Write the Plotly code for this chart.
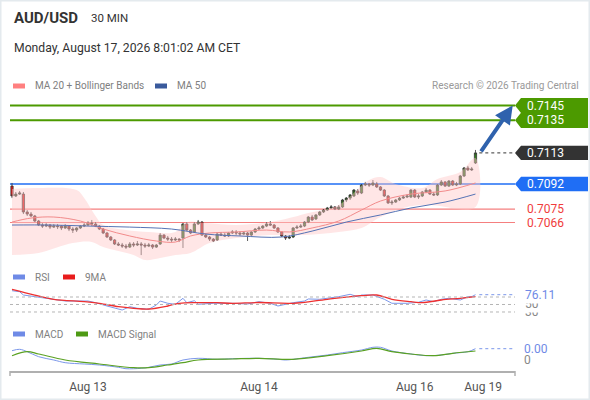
import plotly.graph_objects as go

W, H = 590, 400

# ---------------- data ----------------
open_ = [0.70906,0.70839,0.70852,0.70852,0.70731,0.70717,0.70704,0.70670,0.70643,0.70636,
         0.70643,0.70629,0.70636,0.70636,0.70623,0.70636,0.70616,0.70609,0.70623,0.70636,
         0.70643,0.70656,0.70650,0.70636,0.70616,0.70589,0.70562,0.70542,0.70515,0.70508,
         0.70501,0.70494,0.70515,0.70508,0.70515,0.70508,0.70501,0.70508,0.70494,0.70515,
         0.70575,0.70555,0.70548,0.70542,0.70548,0.70555,0.70650,0.70609,0.70596,0.70650,
         0.70663,0.70575,0.70562,0.70548,0.70542,0.70582,0.70575,0.70569,0.70589,0.70596,
         0.70589,0.70582,0.70589,0.70575,0.70596,0.70616,0.70623,0.70636,0.70650,0.70643,
         0.70623,0.70596,0.70569,0.70555,0.70562,0.70623,0.70629,0.70636,0.70663,0.70697,
         0.70684,0.70711,0.70731,0.70744,0.70758,0.70765,0.70751,0.70765,0.70812,0.70825,
         0.70839,0.70873,0.70859,0.70913,0.70920,0.70913,0.70920,0.70900,0.70879,0.70839,
         0.70792,0.70798,0.70812,0.70825,0.70832,0.70832,0.70879,0.70832,0.70839,0.70866,
         0.70879,0.70852,0.70846,0.70913,0.70934,0.70906,0.70940,0.70913,0.70920,0.70974,
         0.71028,0.71015,0.71062]
close = [0.70839,0.70852,0.70859,0.70731,0.70717,0.70704,0.70670,0.70643,0.70636,0.70643,
         0.70629,0.70636,0.70632,0.70623,0.70636,0.70616,0.70609,0.70623,0.70636,0.70643,
         0.70656,0.70650,0.70636,0.70616,0.70589,0.70562,0.70542,0.70515,0.70508,0.70501,
         0.70494,0.70515,0.70508,0.70515,0.70508,0.70501,0.70508,0.70494,0.70508,0.70575,
         0.70555,0.70548,0.70542,0.70548,0.70542,0.70650,0.70609,0.70589,0.70650,0.70663,
         0.70575,0.70562,0.70548,0.70535,0.70582,0.70575,0.70569,0.70589,0.70596,0.70589,
         0.70582,0.70589,0.70575,0.70596,0.70616,0.70623,0.70636,0.70650,0.70643,0.70623,
         0.70596,0.70569,0.70555,0.70562,0.70623,0.70629,0.70636,0.70663,0.70697,0.70677,
         0.70711,0.70731,0.70744,0.70758,0.70765,0.70751,0.70765,0.70812,0.70825,0.70846,
         0.70879,0.70859,0.70913,0.70920,0.70913,0.70927,0.70900,0.70879,0.70839,0.70792,
         0.70798,0.70812,0.70825,0.70832,0.70839,0.70879,0.70832,0.70839,0.70866,0.70879,
         0.70852,0.70846,0.70913,0.70934,0.70906,0.70940,0.70913,0.70920,0.70974,0.71028,
         0.71015,0.71021,0.71130]
high = [0.70927,0.70866,0.70873,0.70866,0.70744,0.70731,0.70711,0.70677,0.70656,0.70656,
        0.70650,0.70650,0.70650,0.70643,0.70650,0.70643,0.70629,0.70629,0.70643,0.70656,
        0.70670,0.70677,0.70663,0.70643,0.70623,0.70596,0.70569,0.70548,0.70528,0.70522,
        0.70515,0.70528,0.70528,0.70535,0.70528,0.70522,0.70522,0.70515,0.70515,0.70589,
        0.70582,0.70569,0.70562,0.70562,0.70555,0.70656,0.70663,0.70616,0.70663,0.70677,
        0.70670,0.70582,0.70569,0.70555,0.70589,0.70596,0.70589,0.70596,0.70609,0.70609,
        0.70602,0.70602,0.70596,0.70602,0.70623,0.70636,0.70643,0.70663,0.70670,0.70650,
        0.70629,0.70602,0.70575,0.70575,0.70629,0.70643,0.70650,0.70670,0.70704,0.70711,
        0.70717,0.70738,0.70751,0.70765,0.70778,0.70771,0.70778,0.70819,0.70832,0.70852,
        0.70886,0.70886,0.70920,0.70934,0.70927,0.70947,0.70934,0.70906,0.70886,0.70846,
        0.70812,0.70819,0.70832,0.70846,0.70852,0.70886,0.70886,0.70852,0.70873,0.70893,
        0.70886,0.70866,0.70920,0.70947,0.70940,0.70947,0.70947,0.70934,0.70981,0.71035,
        0.71042,0.71035,0.71150]
low = [0.70825,0.70832,0.70846,0.70717,0.70704,0.70697,0.70663,0.70636,0.70623,0.70629,
       0.70616,0.70623,0.70616,0.70609,0.70616,0.70602,0.70589,0.70596,0.70616,0.70629,
       0.70636,0.70636,0.70629,0.70609,0.70582,0.70555,0.70535,0.70508,0.70501,0.70488,
       0.70481,0.70488,0.70494,0.70501,0.70440,0.70488,0.70494,0.70481,0.70488,0.70508,
       0.70548,0.70535,0.70528,0.70535,0.70528,0.70488,0.70602,0.70582,0.70589,0.70643,
       0.70569,0.70555,0.70535,0.70528,0.70535,0.70569,0.70562,0.70562,0.70582,0.70575,
       0.70569,0.70575,0.70535,0.70569,0.70589,0.70609,0.70616,0.70629,0.70636,0.70616,
       0.70589,0.70562,0.70542,0.70548,0.70555,0.70616,0.70623,0.70629,0.70656,0.70670,
       0.70677,0.70704,0.70724,0.70738,0.70751,0.70744,0.70744,0.70758,0.70798,0.70812,
       0.70832,0.70846,0.70852,0.70906,0.70900,0.70906,0.70893,0.70873,0.70832,0.70785,
       0.70778,0.70792,0.70805,0.70819,0.70825,0.70825,0.70825,0.70819,0.70832,0.70859,
       0.70846,0.70839,0.70839,0.70906,0.70900,0.70900,0.70906,0.70906,0.70913,0.70967,
       0.71008,0.71008,0.71055]

# indicator samples (candle index, value)
ma20_idx = [0, 5, 11, 18, 24, 31, 38, 43, 47, 52, 59, 67, 73, 79, 86, 92, 97, 105, 114, 122]
ma20_val = [0.70663, 0.70690, 0.70697, 0.70670, 0.70616, 0.70569, 0.70535, 0.70528, 0.70569, 0.70589,
            0.70596, 0.70609, 0.70596, 0.70623, 0.70670, 0.70744, 0.70805, 0.70852, 0.70873, 0.70927]
ma50_idx = [0, 10, 20, 31, 42, 51, 60, 71, 79, 88, 97, 105, 114, 122]
ma50_val = [0.70643, 0.70643, 0.70636, 0.70629, 0.70616, 0.70582, 0.70569, 0.70562, 0.70602, 0.70663,
            0.70711, 0.70758, 0.70798, 0.70852]
bb_up_idx = [0, 7, 17, 19, 22, 24, 30, 36, 43, 46, 51, 59, 66, 72, 78, 86, 94, 97, 101, 108, 112, 118, 122]
bb_up_val = [0.70886, 0.70893, 0.70879, 0.70825, 0.70704, 0.70643, 0.70609, 0.70596, 0.70596, 0.70663,
             0.70656, 0.70643, 0.70656, 0.70684, 0.70724, 0.70778, 0.70947, 0.70967, 0.70920, 0.70893,
             0.70954, 0.71001, 0.71096]
bb_lo_idx = [0, 7, 16, 21, 24, 32, 35, 39, 43, 47, 52, 59, 68, 77, 86, 92, 97, 104, 110, 122]
bb_lo_val = [0.70440, 0.70454, 0.70521, 0.70528, 0.70494, 0.70440, 0.70406, 0.70420, 0.70440, 0.70454,
             0.70521, 0.70555, 0.70575, 0.70575, 0.70596, 0.70623, 0.70697, 0.70765, 0.70778, 0.70765]

rsi_idx = [0, 2, 3, 6, 10, 14, 20, 22, 25, 28, 29, 31, 33, 36, 38, 39, 41, 43, 45, 46, 48, 49, 53, 58,
           62, 65, 68, 70, 71, 74, 77, 78, 81, 84, 86, 89, 91, 92, 95, 98, 100, 104, 107, 109, 111,
           113, 115, 118, 120, 121, 122]
rsi_val = [86.8, 84.1, 75.3, 70.8, 63.9, 59.3, 59.3, 54.8, 46.0, 37.2, 35.3, 44.1, 39.9, 37.2, 48.7,
           59.3, 53.2, 50.5, 66.5, 54.8, 60.1, 50.5, 53.2, 53.2, 51.3, 57.5, 53.2, 46.0, 48.7, 54.8,
           59.3, 64.7, 63.9, 68.1, 70.8, 77.2, 70.8, 75.3, 75.3, 63.9, 53.2, 53.2, 55.9, 62.0, 57.5,
           63.9, 66.5, 62.0, 70.8, 70.8, 76.11]
rsi_ma_idx = [0, 6, 11, 19, 23, 28, 32, 36, 41, 44, 49, 54, 58, 65, 74, 83, 92, 96, 100, 105, 108, 113, 118, 122]
rsi_ma_val = [90.5, 75.3, 63.9, 57.5, 53.2, 44.1, 39.9, 38.0, 46.0, 53.2, 54.8, 54.8, 53.2, 55.3, 53.2,
              63.9, 73.5, 75.3, 63.9, 57.5, 54.8, 62.0, 66.5, 70.8]
rsi_levels = [30, 50, 70]

macd_idx = [0, 2, 4, 7, 11, 14, 19, 23, 28, 30, 34, 36, 39, 42, 45, 49, 54, 58, 65, 70, 72, 74, 78,
            83, 87, 92, 95, 97, 100, 105, 109, 113, 116, 120, 122]
macd_val = [0.000279, 0.000321, 0.000249, 0.000099, 0.0, -0.000081, -0.00012, -0.00015, -0.000219,
            -0.000261, -0.000249, -0.000219, -0.00015, -0.00012, 0.0, 0.000051, 0.000021, 0.000039,
            0.000051, 0.000021, 0.0, 0.000021, 0.000081, 0.00015, 0.000219, 0.0003, 0.000381, 0.000381,
            0.00027, 0.00018, 0.000129, 0.00015, 0.000201, 0.000249, 0.000339]
sig_idx = [0, 4, 7, 14, 23, 32, 36, 41, 45, 49, 58, 65, 74, 83, 92, 96, 100, 105, 111, 116, 122]
sig_val = [0.000129, 0.000249, 0.00018, 0.0, -0.00012, -0.000231, -0.000231, -0.00015, -0.000081, 0.0,
           0.00003, 0.000051, 0.000021, 0.000129, 0.00027, 0.000351, 0.000249, 0.00018, 0.000129,
           0.000201, 0.00027]

tick_idx = [20, 65, 106, 124]
tick_text = ["Aug 13", "Aug 14", "Aug 16", "Aug 19"]

targets = [0.7145, 0.7135]
pivot = 0.7092
supports = [0.7075, 0.7066]

# ---------------- layout geometry ----------------
FONT = "Roboto, Arial, sans-serif"
X_RANGE = [-0.53, 132.4]
Y_RANGE = [0.70373, 0.71521]
MAIN_DOM = [1 - 265 / H, 1 - 95 / H]
RSI_DOM = [1 - 316 / H, 1 - 285 / H]
RSI_RANGE = [19.3, 102]
MACD_DOM = [1 - 371 / H, 1 - 340 / H]
MACD_RANGE = [-0.00033, 0.0006]
XDOM = [10 / W, 515 / W]


def px(x):
    return x / W


def py(y):
    return 1 - y / H


xs = list(range(len(close)))
last = xs[-1]

fig = go.Figure()

# Bollinger band fill
fig.add_trace(go.Scatter(
    x=bb_up_idx + bb_lo_idx[::-1], y=bb_up_val + bb_lo_val[::-1],
    fill="toself", fillcolor="rgba(255,200,200,0.45)", line=dict(width=0, shape="spline"),
    mode="lines", hoverinfo="skip", showlegend=False))
fig.add_trace(go.Scatter(x=ma20_idx, y=ma20_val, mode="lines",
                         line=dict(color="#f28b8b", width=1, shape="spline"), showlegend=False))
fig.add_trace(go.Scatter(x=ma50_idx, y=ma50_val, mode="lines",
                         line=dict(color="#5573b5", width=1, shape="spline"), showlegend=False))

fig.add_trace(go.Candlestick(
    x=xs, open=open_, high=high, low=low, close=close,
    increasing=dict(fillcolor="#2f7d1c", line=dict(color="#333333", width=0.8)),
    decreasing=dict(fillcolor="#e31b1b", line=dict(color="#333333", width=0.8)),
    whiskerwidth=0, showlegend=False))

# RSI
fig.add_trace(go.Scatter(x=rsi_idx, y=rsi_val, yaxis="y2", mode="lines",
                         line=dict(color="#7b97ea", width=1), showlegend=False))
fig.add_trace(go.Scatter(x=rsi_ma_idx, y=rsi_ma_val, yaxis="y2", mode="lines",
                         line=dict(color="#ee3030", width=1.3, shape="spline"), showlegend=False))
# MACD
fig.add_trace(go.Scatter(x=macd_idx, y=macd_val, yaxis="y3", mode="lines",
                         line=dict(color="#7b97ea", width=1, shape="spline"), showlegend=False))
fig.add_trace(go.Scatter(x=sig_idx, y=sig_val, yaxis="y3", mode="lines",
                         line=dict(color="#5aa122", width=1.2, shape="spline"), showlegend=False))

shapes = []
annotations = []

# horizontal levels
for lv in targets:
    shapes.append(dict(type="line", xref="x domain", yref="y", x0=0, x1=1, y0=lv, y1=lv,
                       line=dict(color="#4c9a00", width=2), layer="below"))
shapes.append(dict(type="line", xref="x domain", yref="y", x0=0, x1=1, y0=pivot, y1=pivot,
                   line=dict(color="#1f6ef5", width=1.4), layer="below"))
for lv in supports:
    shapes.append(dict(type="line", xref="x domain", yref="y", x0=0, x1=1, y0=lv, y1=lv,
                       line=dict(color="#f57f7f", width=1.2), layer="below"))

# last price dotted
shapes.append(dict(type="line", xref="x", yref="y", x0=last + 1, x1=X_RANGE[1], y0=close[-1], y1=close[-1],
                   line=dict(color="#333333", width=1, dash="dot")))

# price tags
price_per_px = (Y_RANGE[1] - Y_RANGE[0]) / ((MAIN_DOM[1] - MAIN_DOM[0]) * H)


def tag(level, color, half=7.2):
    h = half * price_per_px
    xl, xb, xr = px(515), px(521), px(588)
    path = (f"M {xl},{level} L {xb},{level + h} L {xr},{level + h} "
            f"L {xr},{level - h} L {xb},{level - h} Z")
    shapes.append(dict(type="path", xref="paper", yref="y", path=path,
                       fillcolor=color, line=dict(width=0), layer="above"))
    annotations.append(dict(x=px(525), y=level, xref="paper", yref="y", text=f"{level:.4f}",
                            showarrow=False, xanchor="left", yanchor="middle",
                            font=dict(family=FONT, size=12, color="white")))


tag(targets[1], "#4c9a00", 7.6)
tag(targets[0], "#4c9a00", 7.6)
tag(close[-1], "#333333")
tag(pivot, "#1f6ef5")
for lv in supports:
    annotations.append(dict(x=px(525), y=lv, xref="paper", yref="y", text=f"{lv:.4f}",
                            showarrow=False, xanchor="left", yanchor="middle",
                            font=dict(family=FONT, size=12, color="#f03c3c")))

# arrow to target
annotations.append(dict(x=X_RANGE[1] - 0.6, y=targets[0], xref="x", yref="y",
                        ax=last + 1.2, ay=close[-1], axref="x", ayref="y",
                        text="", showarrow=True, arrowhead=2, arrowsize=0.9, arrowwidth=4,
                        arrowcolor="#2f62ad", standoff=0, startstandoff=0))

# RSI grid and labels
for lv in rsi_levels:
    shapes.append(dict(type="line", xref="x domain", yref="y2", x0=0, x1=1, y0=lv, y1=lv,
                       line=dict(color="#b5b5b5", width=1, dash="dot")))
shapes.append(dict(type="line", xref="x", yref="y2", x0=rsi_idx[-1] + 1, x1=X_RANGE[1],
                   y0=rsi_val[-1], y1=rsi_val[-1], line=dict(color="#7b97ea", width=1, dash="dot")))
for lv in [30, 50]:
    annotations.append(dict(x=px(523), y=lv, xref="paper", yref="y2", text=str(lv), showarrow=False,
                            xanchor="left", yanchor="middle", bgcolor="white", borderpad=1,
                            font=dict(family=FONT, size=12, color="#888888")))
annotations.append(dict(x=px(523), y=rsi_val[-1], xref="paper", yref="y2", text=f"{rsi_val[-1]:.2f}",
                        showarrow=False, xanchor="left", yanchor="middle", bgcolor="white", borderpad=1,
                        font=dict(family=FONT, size=12, color="#6f8ae6")))

# MACD labels
shapes.append(dict(type="line", xref="x", yref="y3", x0=macd_idx[-1] + 1, x1=X_RANGE[1],
                   y0=macd_val[-1], y1=macd_val[-1], line=dict(color="#7b97ea", width=1, dash="dot")))
annotations.append(dict(x=px(523), y=0, xref="paper", yref="y3", text="0", showarrow=False,
                        xanchor="left", yanchor="middle", bgcolor="white", borderpad=0,
                        font=dict(family=FONT, size=12, color="#888888")))
annotations.append(dict(x=px(523), y=macd_val[-1], xref="paper", yref="y3", text=f"{macd_val[-1]:.2f}",
                        showarrow=False, xanchor="left", yanchor="middle", borderpad=0,
                        font=dict(family=FONT, size=12, color="#6f8ae6")))

# axis end caps
for xe in XDOM:
    shapes.append(dict(type="line", xref="paper", yref="paper", x0=xe, x1=xe, y0=py(371), y1=py(376),
                       line=dict(color="#b0b0b0", width=1.5)))

# header texts
annotations += [
    dict(x=px(12), y=py(18), text="<b>AUD/USD</b>", font=dict(family=FONT, size=15, color="#333333")),
    dict(x=px(89), y=py(18), text="30 MIN", font=dict(family=FONT, size=11.5, color="#333333")),
    dict(x=px(12), y=py(48), text="Monday, August 17, 2026 8:01:02 AM CET",
         font=dict(family=FONT, size=12.2, color="#333333")),
    dict(x=px(581), y=py(86), text="Research © 2026 Trading Central", xanchor="right",
         font=dict(family=FONT, size=10, color="#999999")),
]
for a in annotations[-4:]:
    a.setdefault("xanchor", "left")
    a.update(xref="paper", yref="paper", yanchor="middle", showarrow=False)

# legends (swatch + label)
legends = [
    (13, 86, "#ff8080", "MA 20 + Bollinger Bands"),
    (155, 86, "#3a5a9c", "MA 50"),
    (13, 277, "#6f8ae6", "RSI"),
    (63, 277, "#e81c1c", "9MA"),
    (13, 334, "#6f8ae6", "MACD"),
    (76, 334, "#4e9a14", "MACD Signal"),
]
for x0, yc, col, label in legends:
    shapes.append(dict(type="rect", xref="paper", yref="paper", x0=px(x0), x1=px(x0 + 12),
                       y0=py(yc + 2.5), y1=py(yc - 2.5), fillcolor=col, line=dict(width=0)))
    annotations.append(dict(x=px(x0 + 20), y=py(yc), xref="paper", yref="paper", text=label,
                            showarrow=False, xanchor="left", yanchor="middle",
                            font=dict(family=FONT, size=10, color="#808080")))

# frame
shapes.append(dict(type="rect", xref="paper", yref="paper", x0=0, x1=1, y0=0, y1=1,
                   line=dict(color="#e4eaee", width=3)))

hidden = dict(showticklabels=False, showgrid=False, zeroline=False, showline=False, fixedrange=True)
fig.update_layout(
    width=W, height=H, margin=dict(l=0, r=0, t=0, b=0),
    paper_bgcolor="white", plot_bgcolor="white",
    font=dict(family=FONT),
    showlegend=False,
    boxgap=0.15,
    xaxis=dict(domain=XDOM, range=X_RANGE, anchor="y3", showgrid=False, zeroline=False,
               showline=True, linecolor="#b0b0b0", linewidth=1.5,
               tickvals=tick_idx, ticktext=tick_text, ticks="outside", ticklen=4,
               tickcolor="rgba(0,0,0,0)", tickfont=dict(family=FONT, size=12, color="#555555"),
               rangeslider=dict(visible=False)),
    yaxis=dict(domain=MAIN_DOM, range=Y_RANGE, anchor="x", **hidden),
    yaxis2=dict(domain=RSI_DOM, range=RSI_RANGE, anchor="x", **hidden),
    yaxis3=dict(domain=MACD_DOM, range=MACD_RANGE, anchor="x", **hidden),
    shapes=shapes, annotations=annotations,
)

fig.write_html("out.html", config={"displayModeBar": False},
               post_script="document.body.style.margin='0';document.body.style.overflow='hidden';")
